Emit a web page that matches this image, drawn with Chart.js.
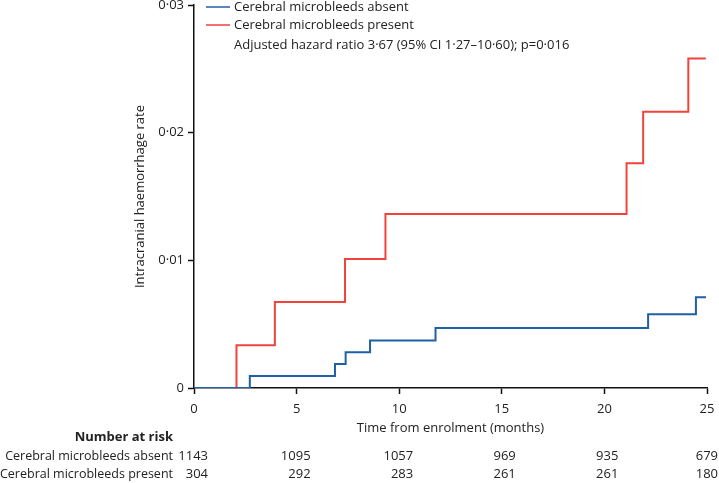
<!DOCTYPE html>
<html>
<head>
<meta charset="utf-8">
<script src="https://cdn.jsdelivr.net/npm/chart.js@4"></script>
<style>
  html, body { margin: 0; padding: 0; background: #fff; }
  #wrap { width: 719px; height: 483px; }
</style>
</head>
<body>
<div id="wrap"><canvas id="km" width="719" height="483"></canvas></div>
<script>
// Kaplan-Meier style cumulative ICH rate
const absentTimes = [0, 2.72, 6.87, 7.39, 8.58, 11.77, 22.13, 24.46, 24.95];
const absentRates = [0, 0.00094, 0.00188, 0.0028, 0.00373, 0.0047, 0.00577, 0.0071, 0.0071];

const presentTimes = [0, 2.07, 3.94, 7.36, 9.33, 21.08, 21.89, 24.09, 24.94];
const presentRates = [0, 0.00334, 0.00673, 0.0101, 0.01363, 0.0176, 0.02164, 0.0258, 0.0258];

const xTicks = [0, 5, 10, 15, 20, 25];
const yTicks = [0, 0.01, 0.02, 0.03];
const yTickLabels = ["0", "0·01", "0·02", "0·03"];

const seriesNames = ["Cerebral microbleeds absent", "Cerebral microbleeds present"];
const riskAbsent = [1143, 1095, 1057, 969, 935, 679];
const riskPresent = [304, 292, 283, 261, 261, 180];
const hazardNote = "Adjusted hazard ratio 3·67 (95% CI 1·27–10·60); p=0·016";

const BLUE = "#1f5fa6";
const RED = "#ef433c";
const FONT = "'Open Sans', 'Noto Sans', sans-serif";

const toPoints = (xs, ys) => xs.map((x, i) => ({ x, y: ys[i] }));

// legend + number-at-risk table, drawn on top of the chart
const extrasPlugin = {
    id: "extras",
    afterDraw(chart) {
        const ctx = chart.ctx;
        const xs = chart.scales.x;
        ctx.save();
        ctx.font = "13px " + FONT;
        ctx.fillStyle = "#222";
        ctx.textBaseline = "middle";

        // legend
        const legendColors = [BLUE, RED];
        [7, 25].forEach((ly, i) => {
            ctx.strokeStyle = legendColors[i];
            ctx.lineWidth = 1.5;
            ctx.beginPath();
            ctx.moveTo(206, ly);
            ctx.lineTo(230, ly);
            ctx.stroke();
            ctx.textAlign = "left";
            ctx.fillText(seriesNames[i], 234, ly);
        });
        ctx.fillText(hazardNote, 234, 45);

        // number at risk
        ctx.textAlign = "right";
        ctx.font = "bold 13px " + FONT;
        ctx.fillText("Number at risk", 173, 437);
        const rows = [riskAbsent, riskPresent];
        [456, 474].forEach((ry, r) => {
            ctx.font = "12.5px " + FONT;
            ctx.fillText(seriesNames[r], 173, ry);
            ctx.font = "13px " + FONT;
            xTicks.forEach((t, i) => {
                const right = Math.min(xs.getPixelForValue(t) + 14, chart.width - 1);
                ctx.fillText(String(rows[r][i]), right, ry);
            });
        });
        ctx.restore();
    }
};

new Chart(document.getElementById("km"), {
    type: "line",
    data: {
        datasets: [
            {
                label: seriesNames[0],
                data: toPoints(absentTimes, absentRates),
                borderColor: BLUE,
                borderWidth: 2,
                stepped: true,
                pointRadius: 0,
                fill: false
            },
            {
                label: seriesNames[1],
                data: toPoints(presentTimes, presentRates),
                borderColor: RED,
                borderWidth: 2,
                stepped: true,
                pointRadius: 0,
                fill: false
            }
        ]
    },
    options: {
        responsive: false,
        animation: false,
        events: [],
        layout: { padding: { left: 130, top: 5, right: 12, bottom: 47 } },
        plugins: {
            legend: { display: false },
            tooltip: { enabled: false }
        },
        scales: {
            x: {
                type: "linear",
                min: 0,
                max: 25,
                afterBuildTicks: (s) => { s.ticks = xTicks.map(v => ({ value: v })); },
                afterFit: (s) => { s.height = 48; s.paddingLeft = 0; s.paddingRight = 0; },
                ticks: {
                    color: "#222",
                    font: { family: FONT, size: 13 },
                    padding: 7,
                    maxRotation: 0
                },
                grid: {
                    drawOnChartArea: false,
                    drawTicks: true,
                    tickLength: 6,
                    tickColor: "#111",
                    tickWidth: 1.5
                },
                border: { color: "#111", width: 1.5 },
                title: {
                    display: true,
                    text: "Time from enrolment (months)",
                    color: "#222",
                    font: { family: FONT, size: 13 },
                    padding: { top: 2, bottom: 0 }
                }
            },
            y: {
                min: 0,
                max: 0.03,
                afterBuildTicks: (s) => { s.ticks = yTicks.map(v => ({ value: v })); },
                afterFit: (s) => { s.width = 64; s.paddingTop = 0; s.paddingBottom = 0; },
                ticks: {
                    color: "#222",
                    font: { family: FONT, size: 13 },
                    padding: 4,
                    callback: (v) => yTickLabels[yTicks.indexOf(v)] ?? ""
                },
                grid: {
                    drawOnChartArea: false,
                    drawTicks: true,
                    tickLength: 6,
                    tickColor: "#111",
                    tickWidth: 1.5
                },
                border: { color: "#111", width: 1.5 },
                title: {
                    display: true,
                    text: "Intracranial haemorrhage rate",
                    color: "#222",
                    font: { family: FONT, size: 13 },
                    padding: { top: 2, bottom: 0 }
                }
            }
        }
    },
    plugins: [extrasPlugin]
});
</script>
</body>
</html>
